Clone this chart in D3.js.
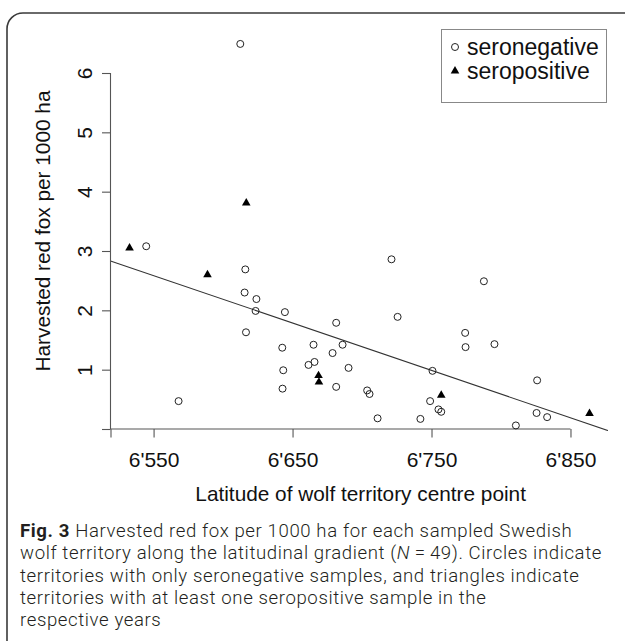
<!DOCTYPE html>
<html><head><meta charset="utf-8">
<script src="https://cdn.jsdelivr.net/npm/d3@7/dist/d3.min.js"></script>
<style>body{margin:0;background:#fff}</style></head>
<body>
<svg id="chart" width="625" height="641"></svg>
<script>
// ---- data ----
const seronegLat = [6544.7,6616,6615.5,6624,6623.4,6644.5,6616.5,6681.4,6642.6,6665.1,6686,6678.8,6661.5,6665.8,6690.3,6643.3,6642.8,6681.4,6703.7,6705.4,6568,6711.2,6721.2,6612.4,6725.6,6787.7,6774.2,6774.5,6795.3,6750.7,6826,6749,6755,6757,6742,6825.6,6833.2,6810.7];
const seronegFox = [3.08,2.69,2.30,2.19,1.99,1.97,1.63,1.79,1.37,1.42,1.42,1.28,1.08,1.13,1.03,0.99,0.68,0.71,0.65,0.59,0.47,0.18,2.86,6.49,1.89,2.49,1.62,1.38,1.43,0.98,0.82,0.47,0.33,0.29,0.17,0.27,0.20,0.06];
const seroposLat = [6532.7,6588.8,6616.7,6668.7,6669,6757,6863.7];
const seroposFox = [3.05,2.60,3.81,0.90,0.79,0.57,0.26];
const xTickValues = [6519, 6550, 6650, 6750, 6850];
const xTickLabels = ["", "6'550", "6'650", "6'750", "6'850"];
const yTickValues = [0, 1, 2, 3, 4, 5, 6];
const yTickLabels = ["", "1", "2", "3", "4", "5", "6"];
const fitIntercept = 54.92, fitSlope = -0.00799;
const legendLabels = ["seronegative", "seropositive"];
const xTitle = "Latitude of wolf territory centre point";
const yTitle = "Harvested red fox per 1000 ha";

const svg = d3.select("#chart");
const axisColor = "#555", inkColor = "#111";
const font = "Liberation Sans, Arial, sans-serif";

// frame
svg.append("rect").attr("x", 7).attr("y", 13).attr("width", 700).attr("height", 700)
  .attr("rx", 16).attr("fill", "none").attr("stroke", "#3a3a3a").attr("stroke-width", 1.6);

const x = d3.scaleLinear().domain([6519, 6877]).range([110.5, 608]);
const y = d3.scaleLinear().domain([0, 6]).range([429, 73]);

// regression line clipped to plot region
svg.append("defs").append("clipPath").attr("id", "plotclip")
  .append("rect").attr("x", x(6519)).attr("y", 30).attr("width", x(6877) - x(6519)).attr("height", 401);
const lineX = x.domain();
svg.append("line")
  .attr("clip-path", "url(#plotclip)")
  .attr("x1", x(lineX[0])).attr("y1", y(fitIntercept + fitSlope * lineX[0]))
  .attr("x2", x(lineX[1])).attr("y2", y(fitIntercept + fitSlope * lineX[1]))
  .attr("stroke", "#333").attr("stroke-width", 1.1);

// x axis
const xAxis = d3.axisBottom(x).tickValues(xTickValues).tickFormat((d, i) => xTickLabels[i]).tickSize(8.5).tickPadding(4);
const gx = svg.append("g").attr("transform", "translate(0,429)").call(xAxis);
gx.select(".domain").remove();
gx.append("line").attr("x1", x(xTickValues[0])).attr("x2", x(xTickValues[xTickValues.length - 1]))
  .attr("y1", 0).attr("y2", 0).attr("stroke", axisColor).attr("stroke-width", 1.1);
gx.selectAll(".tick line").attr("stroke", axisColor).attr("stroke-width", 1.1);
gx.selectAll(".tick text").attr("font-family", font).attr("font-size", 21).attr("fill", inkColor)
  .attr("dy", null).attr("y", 38);

// y axis
const yAxis = d3.axisLeft(y).tickValues(yTickValues).tickFormat((d, i) => yTickLabels[i]).tickSize(8.5);
const gy = svg.append("g").attr("transform", "translate(110.5,0)").call(yAxis);
gy.select(".domain").remove();
gy.append("line").attr("x1", 0).attr("x2", 0).attr("y1", y(0)).attr("y2", y(6))
  .attr("stroke", axisColor).attr("stroke-width", 1.1);
gy.selectAll(".tick line").attr("stroke", axisColor).attr("stroke-width", 1.1);
gy.selectAll(".tick text").attr("font-family", font).attr("font-size", 21).attr("fill", inkColor)
  .attr("x", null).attr("dy", null)
  .attr("text-anchor", "middle")
  .attr("transform", "translate(-19,0) rotate(-90)");

// titles
svg.append("text").attr("x", x(6699)).attr("y", 501).attr("text-anchor", "middle")
  .attr("font-family", font).attr("font-size", 20.8).attr("fill", inkColor).text(xTitle);
svg.append("text").attr("transform", "translate(50,231) rotate(-90)").attr("text-anchor", "middle")
  .attr("font-family", font).attr("font-size", 20.8).attr("fill", inkColor).text(yTitle);

// points
const negData = seronegLat.map((d, i) => ({lat: d, v: seronegFox[i]}));
const posData = seroposLat.map((d, i) => ({lat: d, v: seroposFox[i]}));
svg.append("g").selectAll("circle").data(negData).join("circle")
  .attr("cx", d => x(d.lat)).attr("cy", d => y(d.v)).attr("r", 3.5)
  .attr("fill", "none").attr("stroke", "#222").attr("stroke-width", 1);
const tri = d3.symbol().type(d3.symbolTriangle).size(32);
svg.append("g").selectAll("path").data(posData).join("path")
  .attr("d", tri).attr("transform", d => `translate(${x(d.lat)},${y(d.v)})`).attr("fill", "#000");

// legend
const lg = svg.append("g");
lg.append("rect").attr("x", 441.5).attr("y", 29.5).attr("width", 165).attr("height", 73)
  .attr("fill", "#fff").attr("stroke", "#888").attr("stroke-width", 1);
lg.append("circle").attr("cx", 455).attr("cy", 47).attr("r", 3.5).attr("fill", "none").attr("stroke", "#222");
lg.append("path").attr("d", tri).attr("transform", "translate(455,71)").attr("fill", "#000");
lg.selectAll("text").data(legendLabels).join("text")
  .attr("x", 467).attr("y", (d, i) => 55 + i * 24)
  .attr("font-family", font).attr("font-size", 23).attr("fill", inkColor).text(d => d);

// caption
const capFont = "Roboto, sans-serif";
const capSize = 18.6;
const capLines = [
  [{t: "Fig. 3", b: true}, {t: " Harvested red fox per 1000 ha for each sampled Swedish"}],
  [{t: "wolf territory along the latitudinal gradient ("}, {t: "N", i: true}, {t: "\u2009=\u200949). Circles indicate"}],
  [{t: "territories with only seronegative samples, and triangles indicate"}],
  [{t: "territories with at least one seropositive sample in the"}],
  [{t: "respective years"}]
];
const capTexts = capLines.map((ln, k) => {
  const t = svg.append("text").attr("font-family", capFont).attr("font-size", capSize)
    .attr("font-weight", 300).attr("fill", "#231f20")
    .attr("x", 20).attr("y", 537 + k * 22.3);
  ln.forEach(s => {
    const sp = t.append("tspan").text(s.t);
    if (s.b) sp.attr("font-weight", "bold");
    if (s.i) sp.attr("font-style", "italic");
  });
  return t;
});
// widen letter spacing so the second line spans the same width as in the figure
const ref = capTexts[1];
const w = ref.node().getComputedTextLength();
const nChars = ref.text().length;
const ls = Math.max(0, (582 - w) / nChars);
capTexts.forEach(t => t.attr("letter-spacing", ls));
</script>
</body></html>
